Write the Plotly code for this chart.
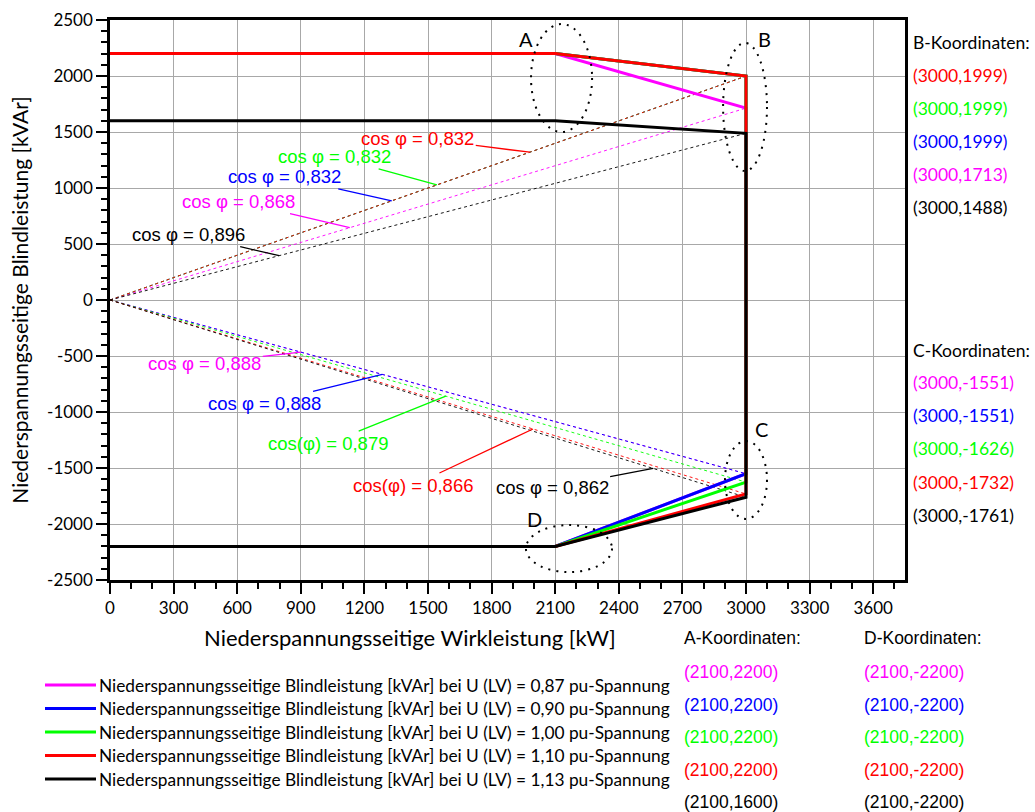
import plotly.graph_objects as go

# ---------------- data ----------------
voltages = ["0,87", "0,90", "1,00", "1,10", "1,13"]
colors = ["#ff00ff", "#0000ff", "#00ff00", "#ff0000", "#000000"]
p_start = 0
p_a = 2100
p_b = 3000
q_a = [2200, 2200, 2200, 2200, 1600]
q_b = [1713, 1999, 1999, 1999, 1488]
q_c = [-1551, -1551, -1626, -1732, -1761]
q_d = [-2200, -2200, -2200, -2200, -2200]

x_ticks = list(range(0, 3601, 300))
y_ticks = list(range(-2500, 2501, 500))
y_ticktext = [str(v) for v in y_ticks]

b_order = [3, 2, 1, 0, 4]   # order of B-Koordinaten list
c_order = [0, 1, 2, 3, 4]   # order of C-Koordinaten list
ad_order = [0, 1, 2, 3, 4]  # order of A/D-Koordinaten lists

CAL = "Lato, Carlito, Calibri, sans-serif"
ARI = "Liberation Sans, Arial, sans-serif"


def cosphi(p, q):
    return p / (p * p + q * q) ** 0.5


def fmt(v):
    return f"{v:.3f}".replace(".", ",")


def py2paper(py):
    return (580 - py) / 560


def px2paper(px):
    return (px - 110) / 795


fig = go.Figure()

# dotted lines from origin to B and C points
for i in range(5):
    for q_end in (q_b[i], q_c[i]):
        fig.add_trace(go.Scatter(
            x=[0, p_b], y=[0, q_end], mode="lines",
            line=dict(color=colors[i], width=1, dash="dot"),
            opacity=0.9, showlegend=False, hoverinfo="skip"))

# solid characteristic curves
names = [f"Niederspannungsseitige Blindleistung [kVAr] bei U (LV) = {v} pu-Spannung" for v in voltages]
for i in range(5):
    fig.add_trace(go.Scatter(
        x=[p_start, p_a, p_b, p_b, p_a, p_start],
        y=[q_a[i], q_a[i], q_b[i], q_c[i], q_d[i], q_d[i]],
        mode="lines", line=dict(color=colors[i], width=3),
        name=names[i], showlegend=False))

annotations = []
shapes = []

# cos phi callouts (upper: to B lines, lower: to C lines)
upper_t = {3: 0.66, 2: 0.514, 1: 0.443, 0: 0.377, 4: 0.266}
upper_off = {3: (-112, -14), 2: (-102, -28), 1: (-107, -24), 0: (-111, -26), 4: (-91, -21)}
lower_t = {0: 0.30, 1: 0.428, 2: 0.528, 3: 0.665, 4: 0.854}
lower_off = {0: (-96, 11), 1: (-118, 29), 2: (-117, 47), 3: (-119, 56), 4: (-101, 19)}
lower_prefix = {0: "cos φ = ", 1: "cos φ = ", 2: "cos(φ) = ", 3: "cos(φ) = ", 4: "cos φ = "}

for i, t in upper_t.items():
    ax, ay = upper_off[i]
    annotations.append(dict(
        x=p_b * t, y=q_b[i] * t, xref="x", yref="y",
        text="cos φ = " + fmt(cosphi(p_b, q_b[i])),
        showarrow=True, arrowhead=0, arrowwidth=1.3, arrowcolor=colors[i],
        ax=ax, ay=ay, standoff=0,
        font=dict(family=ARI, size=18.5, color=colors[i])))
for i, t in lower_t.items():
    ax, ay = lower_off[i]
    annotations.append(dict(
        x=p_b * t, y=q_c[i] * t, xref="x", yref="y",
        text=lower_prefix[i] + fmt(cosphi(p_b, q_c[i])),
        showarrow=True, arrowhead=0, arrowwidth=1.3, arrowcolor=colors[i],
        ax=ax, ay=ay, standoff=0,
        font=dict(family=ARI, size=18.5, color=colors[i])))

# point letters
for letter, px, py, xs, ys in [("A", p_a, max(q_a), -29, 15),
                                ("B", p_b, max(q_b), 18, 37),
                                ("C", p_b, max(q_c), 15, 45),
                                ("D", p_a, min(q_d), -21, 27)]:
    annotations.append(dict(x=px, y=py, xref="x", yref="y", text=letter,
                            showarrow=False, xshift=xs, yshift=ys,
                            font=dict(family=CAL, size=20, color="black")))

# right side: B and C coordinates
annotations.append(dict(x=px2paper(911), y=py2paper(43), xref="paper", yref="paper",
                        text="B-Koordinaten:", showarrow=False, xanchor="left", yanchor="middle",
                        font=dict(family=CAL, size=17.5, color="black")))
for k, i in enumerate(b_order):
    annotations.append(dict(x=px2paper(911), y=py2paper(75 + 33 * k), xref="paper", yref="paper",
                            text=f"({p_b},{q_b[i]})", showarrow=False, xanchor="left", yanchor="middle",
                            font=dict(family=CAL, size=17.5, color=colors[i])))
annotations.append(dict(x=px2paper(911), y=py2paper(350), xref="paper", yref="paper",
                        text="C-Koordinaten:", showarrow=False, xanchor="left", yanchor="middle",
                        font=dict(family=CAL, size=17.5, color="black")))
for k, i in enumerate(c_order):
    annotations.append(dict(x=px2paper(911), y=py2paper(383 + 33 * k), xref="paper", yref="paper",
                            text=f"({p_b},{q_c[i]})", showarrow=False, xanchor="left", yanchor="middle",
                            font=dict(family=CAL, size=17.5, color=colors[i])))

# bottom: A and D coordinates
for hx, head, qs in [(682, "A-Koordinaten:", q_a), (862, "D-Koordinaten:", q_d)]:
    annotations.append(dict(x=px2paper(hx), y=py2paper(638), xref="paper", yref="paper",
                            text=head, showarrow=False, xanchor="left", yanchor="middle",
                            font=dict(family=ARI, size=17.5, color="black")))
    for k, i in enumerate(ad_order):
        annotations.append(dict(x=px2paper(hx), y=py2paper(672 + 32.5 * k), xref="paper", yref="paper",
                                text=f"({p_a},{qs[i]})", showarrow=False, xanchor="left", yanchor="middle",
                                font=dict(family=ARI, size=17.5, color=colors[i])))

# x-axis title (offset to the left like the original)
annotations.append(dict(x=px2paper(410), y=py2paper(637), xref="paper", yref="paper",
                        text="Niederspannungsseitige Wirkleistung [kW]", showarrow=False,
                        xanchor="center", yanchor="middle",
                        font=dict(family=CAL, size=22, color="black")))

# legend (drawn below the chart)
for k in range(5):
    yk = py2paper(685 + 23.5 * k)
    shapes.append(dict(type="line", xref="paper", yref="paper",
                       x0=px2paper(45), x1=px2paper(96), y0=yk, y1=yk,
                       line=dict(color=colors[k], width=3)))
    annotations.append(dict(x=px2paper(97), y=yk, xref="paper", yref="paper",
                            text=names[k], showarrow=False, xanchor="left", yanchor="middle",
                            font=dict(family=CAL, size=17.3, color="black")))

# dotted ellipses around the points
ell = dict(type="circle", xref="x", yref="y",
           line=dict(color="black", width=2, dash="2px,6px"), layer="above")
shapes += [
    dict(ell, x0=1986, x1=2274, y0=1500, y1=2464),
    dict(ell, x0=2892, x1=3099, y0=1152, y1=2295),
    dict(ell, x0=2901, x1=3099, y0=-1955, y1=-1259),
    dict(ell, x0=1962, x1=2368, y0=-2429, y1=-2009),
]

fig.update_layout(
    width=1035, height=812,
    margin=dict(l=110, r=130, t=20, b=232, autoexpand=False),
    paper_bgcolor="white", plot_bgcolor="white",
    annotations=annotations, shapes=shapes,
    showlegend=False,
    xaxis=dict(range=[0, 3750], tickvals=x_ticks, ticks="outside", ticklen=11, tickwidth=2,
               tickcolor="black", showline=True, linewidth=2.5, linecolor="black", mirror=True,
               showgrid=True, gridcolor="#a8a8a8", gridwidth=1, zeroline=False, automargin=False,
               tickfont=dict(family=CAL, size=17, color="black"),
               minor=dict(dtick=100, tick0=0, ticks="outside", ticklen=6, tickwidth=2,
                          tickcolor="black", showgrid=False)),
    yaxis=dict(range=[-2500, 2500], tickvals=y_ticks, ticktext=y_ticktext, ticks="outside",
               ticklen=11, tickwidth=2,
               tickcolor="black", showline=True, linewidth=2.5, linecolor="black", mirror=True,
               showgrid=True, gridcolor="#a8a8a8", gridwidth=1, zeroline=False, automargin=False,
               tickfont=dict(family=CAL, size=17, color="black"),
               title=dict(text="Niederspannungsseitige Blindleistung [kVAr]", standoff=13,
                          font=dict(family=CAL, size=21, color="black")),
               minor=dict(dtick=100, tick0=0, ticks="outside", ticklen=6, tickwidth=2,
                          tickcolor="black", showgrid=False)),
)

fig.write_html("out.html", config={"displayModeBar": False},
               post_script="document.body.style.margin='0px';document.body.style.overflow='hidden';")
